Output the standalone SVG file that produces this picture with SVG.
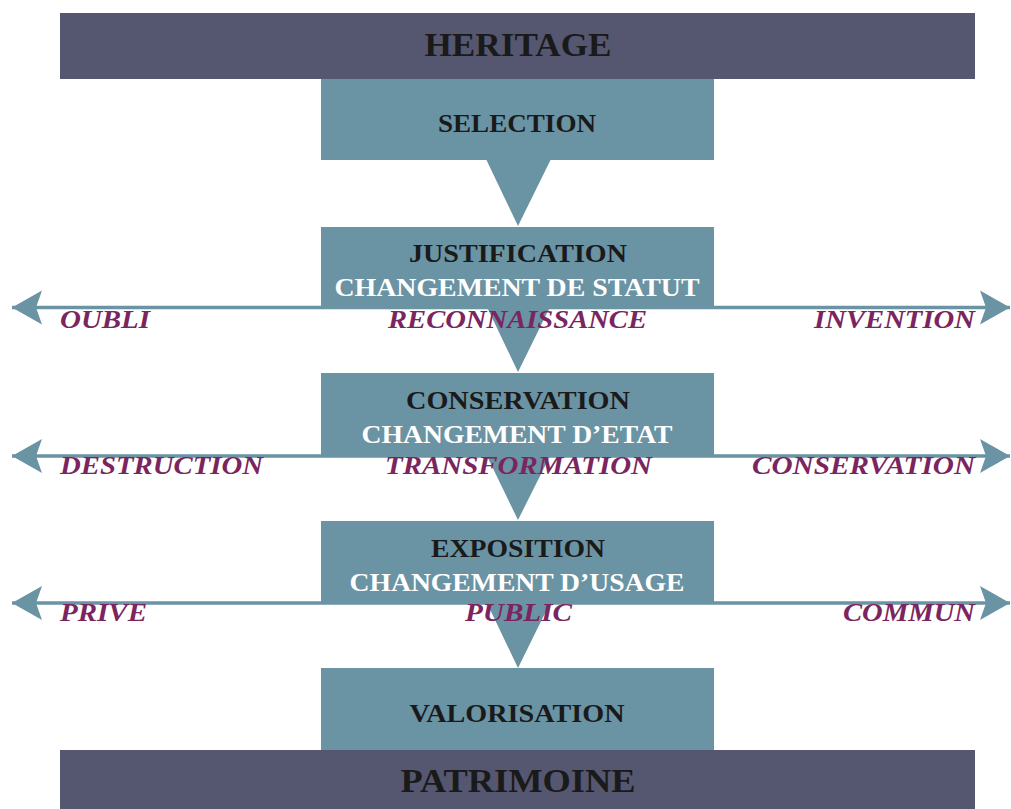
<svg xmlns="http://www.w3.org/2000/svg" width="1011" height="809" viewBox="0 0 1011 809">
<defs>
<style>
.bar{fill:#55566f}
.box{fill:#6a93a4}
.t{font-family:"Liberation Serif","Times New Roman",serif;font-weight:bold;text-anchor:middle}
.k{fill:#1a1a1a;font-size:25px}
.w{fill:#ffffff;font-size:25px}
.big{fill:#1a1a1a}
.lab{font-family:"Liberation Serif","Times New Roman",serif;font-weight:bold;font-style:italic;font-size:25px;fill:#7b2560}
.ln{stroke:#6a93a4;stroke-width:3.5;fill:none}
</style>
<marker id="ah" markerUnits="userSpaceOnUse" viewBox="0 0 32 36" refX="31" refY="18" markerWidth="32" markerHeight="36" orient="auto-start-reverse">
<path d="M1,1 L31,18 L1,35 L7,18 Z" fill="#6a93a4"/>
</marker>
</defs>
<g id="connectors">
<line class="ln" x1="12" y1="307.5" x2="1010" y2="307.5" marker-start="url(#ah)" marker-end="url(#ah)"/>
<line class="ln" x1="12" y1="456" x2="1010" y2="456" marker-start="url(#ah)" marker-end="url(#ah)"/>
<line class="ln" x1="12" y1="603" x2="1010" y2="603" marker-start="url(#ah)" marker-end="url(#ah)"/>
<polygon class="box" points="486,159 551,159 518,226"/>
<polygon class="box" points="486,305 551,305 518,372"/>
<polygon class="box" points="486,454 551,454 518,520"/>
<polygon class="box" points="486,601 551,601 518,668"/>
</g>
<g id="heritage">
<rect class="bar" x="60" y="13" width="915" height="66"/>
<text class="t big" x="518" y="56" font-size="33" textLength="187" lengthAdjust="spacingAndGlyphs">HERITAGE</text>
</g>
<g id="selection">
<rect class="box" x="321" y="79" width="393" height="81"/>
<text class="t k" x="517" y="132" textLength="158" lengthAdjust="spacingAndGlyphs">SELECTION</text>
</g>
<g id="justification">
<rect class="box" x="321" y="227" width="393" height="79"/>
<text class="t k" x="518" y="262" textLength="218" lengthAdjust="spacingAndGlyphs">JUSTIFICATION</text>
<text class="t w" x="517" y="296" textLength="365" lengthAdjust="spacingAndGlyphs">CHANGEMENT DE STATUT</text>
</g>
<g id="conservation">
<rect class="box" x="321" y="373" width="393" height="82"/>
<text class="t k" x="518" y="409" textLength="224" lengthAdjust="spacingAndGlyphs">CONSERVATION</text>
<text class="t w" x="517" y="443" textLength="311" lengthAdjust="spacingAndGlyphs">CHANGEMENT D’ETAT</text>
</g>
<g id="exposition">
<rect class="box" x="321" y="521" width="393" height="81"/>
<text class="t k" x="518" y="557" textLength="174" lengthAdjust="spacingAndGlyphs">EXPOSITION</text>
<text class="t w" x="517" y="591" textLength="335" lengthAdjust="spacingAndGlyphs">CHANGEMENT D’USAGE</text>
</g>
<g id="valorisation">
<rect class="box" x="321" y="668" width="393" height="82"/>
<text class="t k" x="517" y="722" textLength="215" lengthAdjust="spacingAndGlyphs">VALORISATION</text>
</g>
<g id="patrimoine">
<rect class="bar" x="60" y="750" width="915" height="59"/>
<text class="t big" x="518" y="792" font-size="34" textLength="235" lengthAdjust="spacingAndGlyphs">PATRIMOINE</text>
</g>
<g id="labels">
<text class="lab" x="60" y="328" textLength="90" lengthAdjust="spacingAndGlyphs">OUBLI</text>
<text class="lab" x="388" y="328" textLength="259" lengthAdjust="spacingAndGlyphs">RECONNAISSANCE</text>
<text class="lab" x="814" y="328" textLength="161" lengthAdjust="spacingAndGlyphs">INVENTION</text>
<text class="lab" x="60" y="474" textLength="203" lengthAdjust="spacingAndGlyphs">DESTRUCTION</text>
<text class="lab" x="385" y="474" textLength="267" lengthAdjust="spacingAndGlyphs">TRANSFORMATION</text>
<text class="lab" x="752" y="474" textLength="223" lengthAdjust="spacingAndGlyphs">CONSERVATION</text>
<text class="lab" x="60" y="621" textLength="87" lengthAdjust="spacingAndGlyphs">PRIVE</text>
<text class="lab" x="465" y="621" textLength="107" lengthAdjust="spacingAndGlyphs">PUBLIC</text>
<text class="lab" x="843" y="621" textLength="132" lengthAdjust="spacingAndGlyphs">COMMUN</text>
</g>
</svg>
